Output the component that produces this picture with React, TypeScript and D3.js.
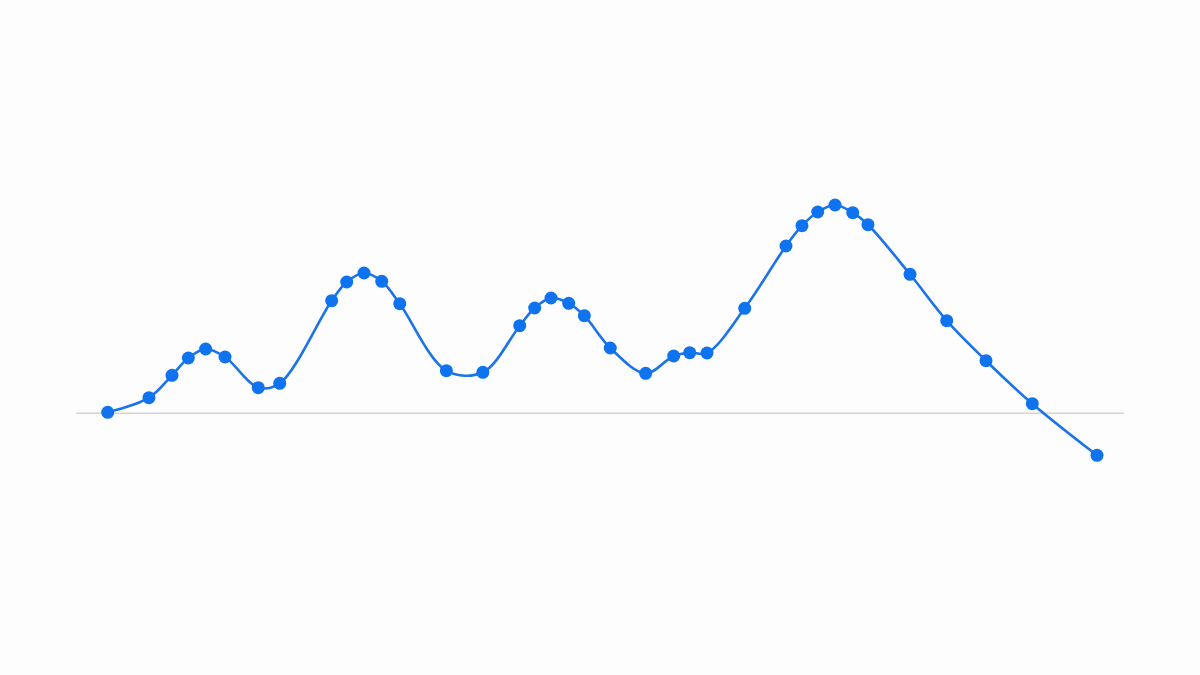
import { useEffect, useRef } from "react";
import * as d3 from "d3";

// x positions (relative time units) and values
const xValues = [
  0, 4.17, 6.5, 8.15, 9.9, 11.86, 15.22, 17.39, 22.64, 24.16, 25.91, 27.7,
  29.52, 34.23, 37.92, 41.65, 43.16, 44.81, 46.6, 48.18, 50.8, 54.38, 57.21,
  58.83, 60.58, 64.39, 68.56, 70.18, 71.77, 73.52, 75.31, 76.85, 81.1, 84.81,
  88.78, 93.46, 100,
];
const yValues = [
  0.5, 7.8, 19, 27.65, 32.15, 28.15, 12.8, 15, 56.3, 65.65, 70.15, 66, 54.8,
  21.3, 20.5, 43.8, 52.65, 57.65, 55, 48.8, 32.65, 20, 28.65, 30.3, 30.15,
  52.5, 83.65, 93.8, 100.65, 104.15, 100.3, 94.3, 69.5, 46.3, 26.3, 4.8, -21,
];

const W = 1200;
const H = 675;

export default function App() {
  const ref = useRef<SVGSVGElement>(null);

  useEffect(() => {
    if (!ref.current) return;
    const svg = d3.select(ref.current);
    svg.selectAll("*").remove();

    const data = xValues.map((x, i) => ({ x, y: yValues[i] }));

    const xScale = d3.scaleLinear().domain([0, 100]).range([107.7, 1097]);
    const yScale = d3.scaleLinear().domain([-30, 110]).range([473.3, 193.3]);

    svg
      .append("rect")
      .attr("width", W)
      .attr("height", H)
      .attr("fill", "#fdfdfd");

    // zero line
    svg
      .append("line")
      .attr("x1", xScale(-3.2))
      .attr("x2", xScale(102.75))
      .attr("y1", yScale(0))
      .attr("y2", yScale(0))
      .attr("stroke", "#d4d4d4")
      .attr("stroke-width", 1.5);

    const line = d3
      .line<{ x: number; y: number }>()
      .x((d) => xScale(d.x))
      .y((d) => yScale(d.y))
      .curve(d3.curveCatmullRom.alpha(0.5));

    svg
      .append("path")
      .datum(data)
      .attr("fill", "none")
      .attr("stroke", "#1a73e8")
      .attr("stroke-width", 2.6)
      .attr("d", line);

    svg
      .selectAll(".dot")
      .data(data)
      .enter()
      .append("circle")
      .attr("class", "dot")
      .attr("cx", (d) => xScale(d.x))
      .attr("cy", (d) => yScale(d.y))
      .attr("r", 6.5)
      .attr("fill", "#0f72ee");
  }, []);

  return (
    <svg
      ref={ref}
      width={W}
      height={H}
      style={{ position: "absolute", left: 0, top: 0, display: "block" }}
    />
  );
}
